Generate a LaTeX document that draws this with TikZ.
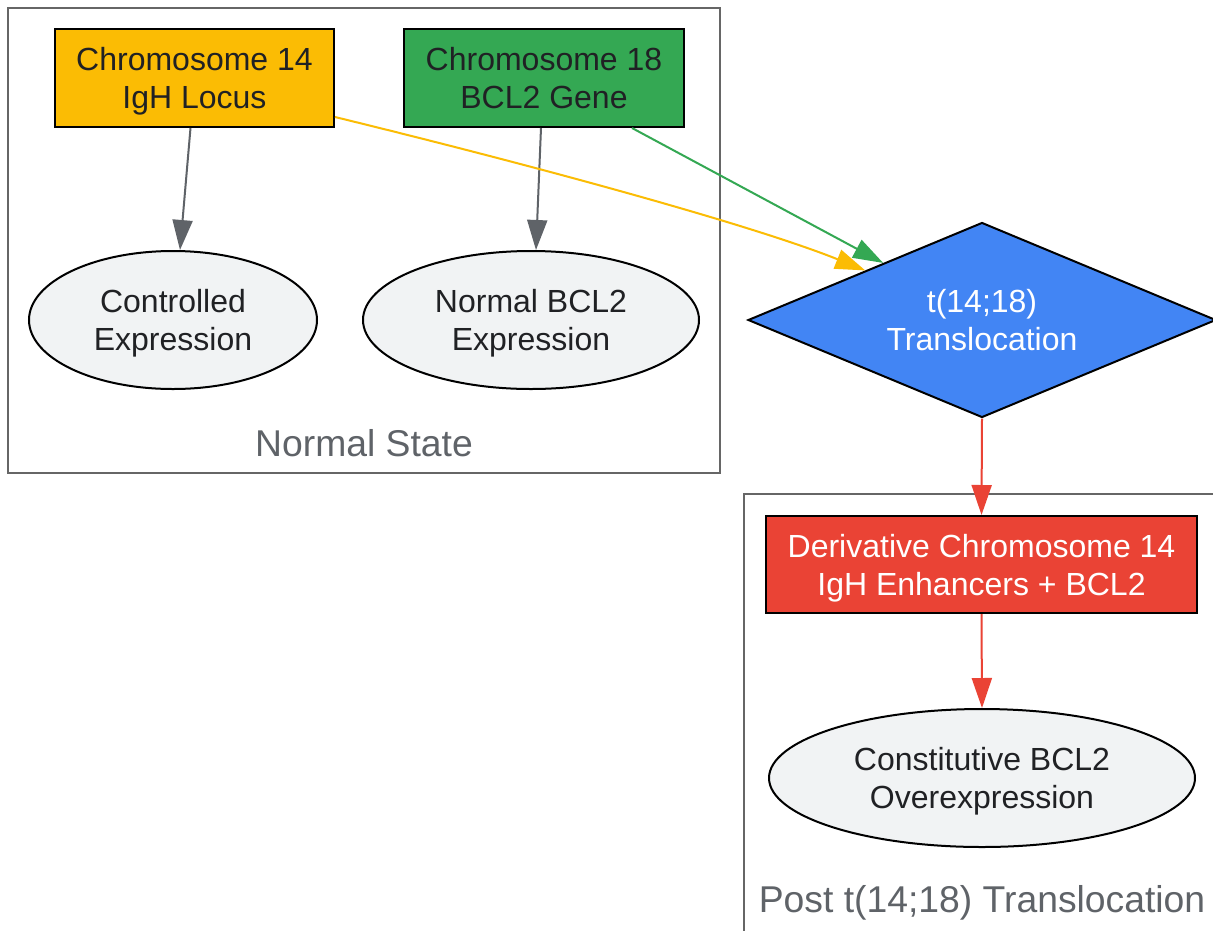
\documentclass[tikz,border=0pt]{standalone}
\usepackage{fontspec}
\setmainfont{Liberation Sans}
\usetikzlibrary{shapes.geometric,arrows.meta}
\definecolor{gyellow}{HTML}{FBBC04}
\definecolor{ggreen}{HTML}{34A853}
\definecolor{gblue}{HTML}{4285F4}
\definecolor{gred}{HTML}{EA4335}
\definecolor{gdark}{HTML}{202124}
\definecolor{ggray}{HTML}{5F6368}
\definecolor{glight}{HTML}{F1F3F4}
\definecolor{gclus}{HTML}{666666}
\newcommand{\mystrut}{\rule{0pt}{32.3pt}}
\newcommand{\mydepth}{\rule[-9pt]{0pt}{9pt}}
\tikzset{
  base/.style={draw=black, line width=2pt, inner sep=0pt, align=center,
    font=\fontsize{32}{38}\selectfont, text=gdark},
  boxnode/.style={base, rectangle},
  ellnode/.style={base, ellipse, fill=glight},
  clus/.style={draw=gclus, line width=2pt},
  cluslabel/.style={font=\fontsize{37.3}{42}\selectfont, text=ggray, inner sep=0pt},
  edge/.style={line width=2pt, -{Triangle[length=30pt,width=20pt]}},
}
\begin{document}
\begin{tikzpicture}[x=1pt,y=-1pt]
\useasboundingbox (0,0) rectangle (1213,930);
\clip (0,0) rectangle (1213,930);
\fill[white] (0,0) rectangle (1213,930);
% clusters
\draw[clus] (8,8) rectangle (720,473);
\draw[clus] (744,494) rectangle (1240,960);
\node[cluslabel] (lab1) at (364,443) {Normal State};
\node[cluslabel] (lab2) at (982,903) {Post t(14;18) Translocation};
% nodes
\node[boxnode, fill=gyellow, minimum width=279pt, minimum height=98pt] (chr14) at (194.5,78) {\mystrut Chromosome 14\\IgH Locus\mydepth};
\node[boxnode, fill=ggreen, minimum width=280pt, minimum height=98pt] (chr18) at (544,78) {\mystrut Chromosome 18\\BCL2 Gene\mydepth};
\node[ellnode, minimum width=288pt, minimum height=138pt] (ctrl) at (173,320) {\mystrut Controlled\\Expression\mydepth};
\node[ellnode, minimum width=336pt, minimum height=138pt] (nbcl) at (531,320) {\mystrut Normal BCL2\\Expression\mydepth};
\node[base, diamond, aspect=2.4, fill=gblue, text=white, minimum width=468pt, minimum height=195pt] (trans) at (982,320) {t(14;18)\\Translocation};
\node[boxnode, fill=gred, text=white, minimum width=431pt, minimum height=97pt] (der) at (981.5,564.5) {\mystrut Derivative Chromosome 14\\IgH Enhancers + BCL2\mydepth};
\node[ellnode, minimum width=426pt, minimum height=138pt] (const) at (982,778) {\mystrut Constitutive BCL2\\Overexpression\mydepth};
% edges
\draw[edge, ggray] ([xshift=-4pt]chr14.south) -- ([xshift=7pt]ctrl.north);
\draw[edge, ggray] ([xshift=-3pt]chr18.south) -- ([xshift=5pt]nbcl.north);
\draw[edge, gyellow] ([yshift=11pt]chr14.south east) .. controls (560,172) and (760,228) .. (trans.157);
\draw[edge, ggreen] ([xshift=88pt]chr18.south) -- (trans.150);
\draw[edge, gred] (trans.south) -- (der.north);
\draw[edge, gred] (der.south) -- (const.north);
\end{tikzpicture}
\end{document}
